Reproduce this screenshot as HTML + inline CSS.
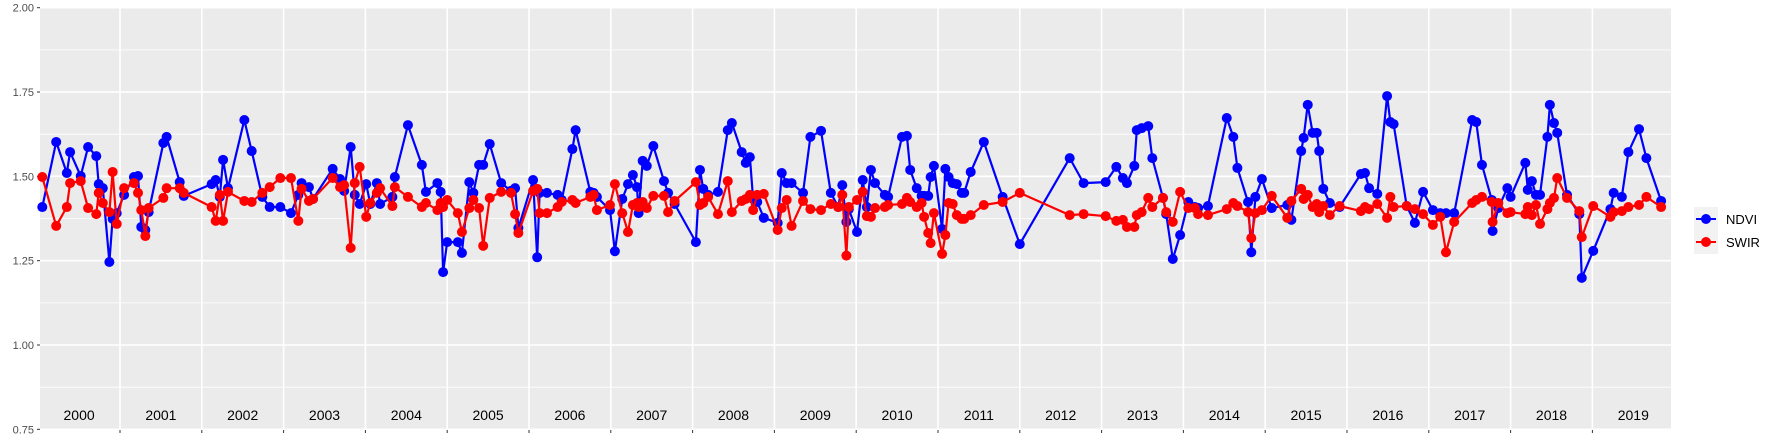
<!DOCTYPE html>
<html><head><meta charset="utf-8"><style>
html,body{margin:0;padding:0;background:#fff;}
svg{display:block;font-family:"Liberation Sans",Arial,sans-serif;}
</style></head><body>
<svg id="chart" width="1773" height="442" viewBox="0 0 1773 442">
<rect x="0" y="0" width="1773" height="442" fill="#fff"/>
<g id="panel"></g>
<g id="yaxis"></g>
<g id="xaxis"></g>
<g id="series"></g>
<g>
  <rect x="1694" y="207" width="24" height="47" fill="#F2F2F2"/>
  <g>
    <line x1="1696" y1="219" x2="1716" y2="219" stroke="#0000FF" stroke-width="2"/>
    <circle cx="1706" cy="219" r="5" fill="#0000FF"/>
    <text x="1726" y="224" font-size="13" fill="#000">NDVI</text>
  </g>
  <g>
    <line x1="1696" y1="242" x2="1716" y2="242" stroke="#FF0000" stroke-width="2"/>
    <circle cx="1706" cy="242" r="5" fill="#FF0000"/>
    <text x="1726" y="247" font-size="13" fill="#000">SWIR</text>
  </g>
</g>
</svg>
<script>
const dates=[2000.05,2000.22,2000.35,2000.39,2000.52,2000.61,2000.71,2000.74,2000.79,2000.87,2000.91,2000.96,2001.05,2001.17,2001.22,2001.26,2001.31,2001.35,2001.53,2001.57,2001.73,2001.78,2002.12,2002.17,2002.22,2002.26,2002.32,2002.52,2002.61,2002.74,2002.83,2002.96,2003.09,2003.18,2003.22,2003.31,2003.36,2003.60,2003.69,2003.74,2003.82,2003.87,2003.93,2004.01,2004.06,2004.14,2004.18,2004.33,2004.36,2004.52,2004.69,2004.74,2004.88,2004.92,2004.95,2005.00,2005.13,2005.18,2005.27,2005.32,2005.39,2005.44,2005.52,2005.66,2005.78,2005.83,2005.87,2006.05,2006.10,2006.13,2006.22,2006.35,2006.40,2006.53,2006.57,2006.75,2006.79,2006.83,2006.99,2007.05,2007.14,2007.21,2007.27,2007.32,2007.34,2007.39,2007.44,2007.52,2007.65,2007.70,2007.78,2008.04,2008.09,2008.13,2008.19,2008.31,2008.43,2008.48,2008.60,2008.65,2008.70,2008.74,2008.79,2008.87,2009.04,2009.09,2009.15,2009.21,2009.35,2009.44,2009.57,2009.69,2009.78,2009.83,2009.88,2009.91,2010.01,2010.08,2010.13,2010.18,2010.23,2010.35,2010.39,2010.56,2010.62,2010.66,2010.74,2010.80,2010.83,2010.88,2010.91,2010.95,2011.05,2011.09,2011.13,2011.18,2011.23,2011.29,2011.32,2011.40,2011.56,2011.79,2012.00,2012.61,2012.78,2013.05,2013.18,2013.26,2013.31,2013.40,2013.43,2013.49,2013.57,2013.62,2013.75,2013.79,2013.87,2013.96,2014.06,2014.14,2014.18,2014.30,2014.53,2014.61,2014.66,2014.79,2014.83,2014.88,2014.96,2015.08,2015.27,2015.32,2015.44,2015.47,2015.52,2015.58,2015.63,2015.66,2015.71,2015.79,2015.91,2016.17,2016.22,2016.27,2016.37,2016.49,2016.53,2016.57,2016.73,2016.83,2016.93,2017.05,2017.14,2017.21,2017.31,2017.53,2017.58,2017.65,2017.77,2017.78,2017.85,2017.96,2018.00,2018.18,2018.21,2018.26,2018.31,2018.36,2018.45,2018.48,2018.53,2018.57,2018.69,2018.84,2018.87,2019.01,2019.22,2019.26,2019.36,2019.44,2019.57,2019.66,2019.84];
const ndvi=[1.409,1.602,1.510,1.572,1.501,1.587,1.560,1.477,1.465,1.246,1.374,1.391,1.445,1.498,1.501,1.350,1.341,1.394,1.599,1.617,1.483,1.442,1.477,1.489,1.439,1.549,1.465,1.667,1.575,1.439,1.409,1.409,1.391,1.445,1.480,1.468,1.433,1.522,1.492,1.457,1.587,1.445,1.418,1.477,1.418,1.480,1.418,1.439,1.498,1.652,1.534,1.454,1.480,1.454,1.216,1.305,1.305,1.273,1.483,1.451,1.534,1.534,1.596,1.480,1.457,1.465,1.347,1.489,1.260,1.451,1.451,1.445,1.430,1.581,1.637,1.454,1.451,1.439,1.400,1.278,1.433,1.477,1.504,1.468,1.391,1.546,1.531,1.590,1.486,1.451,1.418,1.305,1.519,1.463,1.445,1.454,1.637,1.658,1.572,1.540,1.557,1.433,1.424,1.377,1.362,1.510,1.480,1.480,1.451,1.617,1.635,1.451,1.409,1.474,1.365,1.403,1.335,1.489,1.409,1.519,1.480,1.445,1.439,1.617,1.620,1.519,1.465,1.442,1.442,1.442,1.498,1.531,1.344,1.522,1.498,1.480,1.477,1.451,1.451,1.513,1.602,1.439,1.299,1.554,1.480,1.483,1.528,1.495,1.480,1.531,1.637,1.643,1.649,1.554,1.436,1.388,1.255,1.326,1.424,1.409,1.406,1.412,1.673,1.617,1.525,1.424,1.275,1.439,1.492,1.406,1.415,1.371,1.575,1.614,1.712,1.629,1.629,1.575,1.463,1.421,1.409,1.507,1.510,1.465,1.448,1.738,1.661,1.655,1.412,1.362,1.454,1.400,1.391,1.391,1.391,1.667,1.661,1.534,1.430,1.338,1.406,1.465,1.439,1.540,1.460,1.486,1.445,1.445,1.617,1.712,1.658,1.629,1.445,1.388,1.199,1.279,1.403,1.451,1.439,1.572,1.640,1.554,1.427];
const swir=[1.498,1.353,1.409,1.480,1.486,1.406,1.388,1.451,1.421,1.394,1.513,1.359,1.465,1.480,1.451,1.400,1.323,1.406,1.436,1.465,1.465,1.451,1.409,1.368,1.445,1.368,1.454,1.427,1.424,1.451,1.468,1.495,1.495,1.368,1.463,1.427,1.433,1.495,1.468,1.474,1.288,1.480,1.528,1.380,1.421,1.451,1.465,1.412,1.468,1.439,1.409,1.421,1.400,1.421,1.409,1.430,1.391,1.335,1.406,1.430,1.406,1.294,1.436,1.454,1.451,1.388,1.332,1.457,1.463,1.391,1.391,1.409,1.424,1.430,1.421,1.439,1.445,1.400,1.415,1.477,1.391,1.335,1.415,1.421,1.409,1.424,1.406,1.442,1.442,1.394,1.427,1.483,1.415,1.421,1.439,1.388,1.486,1.394,1.427,1.433,1.445,1.400,1.445,1.448,1.341,1.406,1.430,1.353,1.427,1.403,1.400,1.418,1.409,1.445,1.265,1.409,1.430,1.454,1.382,1.380,1.406,1.409,1.415,1.418,1.436,1.424,1.409,1.421,1.380,1.332,1.302,1.391,1.270,1.326,1.421,1.418,1.385,1.374,1.374,1.385,1.415,1.424,1.451,1.385,1.388,1.382,1.368,1.371,1.350,1.350,1.385,1.394,1.436,1.409,1.436,1.394,1.365,1.454,1.406,1.406,1.388,1.385,1.403,1.421,1.412,1.394,1.317,1.391,1.400,1.442,1.377,1.427,1.463,1.433,1.445,1.409,1.418,1.394,1.412,1.385,1.412,1.397,1.409,1.403,1.418,1.377,1.439,1.409,1.412,1.403,1.388,1.356,1.380,1.275,1.365,1.421,1.430,1.439,1.424,1.365,1.421,1.391,1.394,1.388,1.409,1.385,1.415,1.359,1.403,1.421,1.436,1.495,1.436,1.397,1.320,1.412,1.380,1.394,1.397,1.409,1.415,1.439,1.409];
const yTicks=[0.75,1.00,1.25,1.50,1.75,2.00];
const yTickLabels=["0.75","1.00","1.25","1.50","1.75","2.00"];
const years=[2000,2001,2002,2003,2004,2005,2006,2007,2008,2009,2010,2011,2012,2013,2014,2015,2016,2017,2018,2019];

const NS="http://www.w3.org/2000/svg";
const PL=40,PR=1671,PT=8,PB=430;
function xs(t){return 120+(t-2001)*81.8;}
function ys(v){return 345-(v-1)*337.3;}
function mk(tag,attrs,parent){const e=document.createElementNS(NS,tag);for(const k in attrs)e.setAttribute(k,attrs[k]);parent.appendChild(e);return e;}

const panel=document.getElementById('panel');
let bg=mk('rect',{x:PL,y:PT,width:PR-PL,height:PB-PT,fill:'#EBEBEB'},panel);


for(let i=0;i<yTicks.length-1;i++){
  const m=(yTicks[i]+yTicks[i+1])/2;
  let g=mk('line',{x1:PL,x2:PR,y1:ys(m),y2:ys(m),stroke:'#fff','stroke-width':0.8},panel);
  
  
}
yTicks.forEach(v=>{
  let g=mk('line',{x1:PL,x2:PR,y1:ys(v),y2:ys(v),stroke:'#fff','stroke-width':1.6},panel);
  
  
});
for(let k=1;k<years.length;k++){
  const x=xs(years[k]);
  let g=mk('line',{x1:x,x2:x,y1:PT,y2:PB,stroke:'#fff','stroke-width':1.6},panel);
  
  
}
const yaxis=document.getElementById('yaxis');
yTicks.forEach((v,i)=>{
  let t=mk('line',{x1:PL-3,x2:PL,y1:ys(v),y2:ys(v),stroke:'#333','stroke-width':1},yaxis);
  
  
  let l=mk('text',{x:PL-6,y:ys(v)+4,'text-anchor':'end','font-size':11,fill:'#4D4D4D'},yaxis);
  l.textContent=yTickLabels[i];
  
  
});
const xaxis=document.getElementById('xaxis');
for(let k=1;k<years.length;k++){
  const x=xs(years[k]);
  let t=mk('line',{x1:x,x2:x,y1:PB,y2:PB+3,stroke:'#333','stroke-width':1},xaxis);
  
  
}
years.forEach(yr=>{
  let l=mk('text',{x:xs(yr+0.5),y:420,'text-anchor':'middle','font-size':14,fill:'#000'},xaxis);
  l.textContent=String(yr);
  
  
});
const series=document.getElementById('series');
function draw(vals,color,name){
  const g=mk('g',{},series);
  
  
  const pts=dates.map((d,i)=>xs(d).toFixed(1)+','+ys(vals[i]).toFixed(1)).join(' ');
  let pl=mk('polyline',{points:pts,fill:'none',stroke:color,'stroke-width':2.2,'stroke-linejoin':'round'},g);
  
  
  dates.forEach((d,i)=>{
    let c=mk('circle',{cx:xs(d),cy:ys(vals[i]),r:5,fill:color},g);
    
    
  });
}
draw(ndvi,'#0000FF','ndvi');
draw(swir,'#FF0000','swir');
</script>
</body></html>
